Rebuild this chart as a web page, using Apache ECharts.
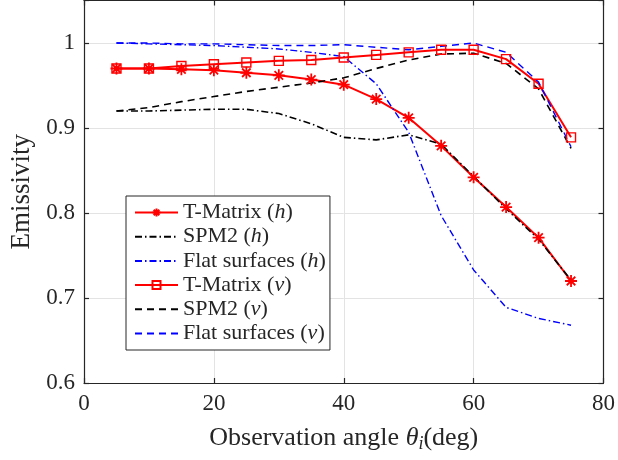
<!DOCTYPE html>
<html>
<head>
<meta charset="utf-8">
<script src="https://cdn.jsdelivr.net/npm/echarts@6/dist/echarts.min.js"></script>
<style>
html,body{margin:0;padding:0;background:#fff;}
#chart{width:618px;height:460px;}
</style>
</head>
<body>
<div id="chart"></div>
<script>
const angles = [5, 10, 15, 20, 25, 30, 35, 40, 45, 50, 55, 60, 65, 70, 75];
const tMatrixH = [0.970, 0.970, 0.969, 0.968, 0.965, 0.962, 0.957, 0.951, 0.934, 0.912, 0.879, 0.842, 0.807, 0.771, 0.720];
const spm2H    = [0.920, 0.920, 0.921, 0.922, 0.922, 0.917, 0.905, 0.889, 0.886, 0.892, 0.881, 0.843, 0.805, 0.769, 0.721];
const flatH    = [1.000, 0.999, 0.998, 0.997, 0.995, 0.993, 0.989, 0.984, 0.952, 0.895, 0.797, 0.733, 0.689, 0.676, 0.668];
const tMatrixV = [0.970, 0.970, 0.973, 0.975, 0.977, 0.979, 0.980, 0.983, 0.986, 0.989, 0.992, 0.992, 0.981, 0.952, 0.889];
const spm2V    = [0.920, 0.924, 0.931, 0.937, 0.943, 0.948, 0.953, 0.959, 0.970, 0.980, 0.987, 0.988, 0.976, 0.946, 0.876];
const flatV    = [1.000, 1.000, 0.999, 0.999, 0.998, 0.997, 0.997, 0.998, 0.995, 0.992, 0.996, 1.000, 0.989, 0.954, 0.878];
const seriesNames = ['T-Matrix (h)', 'SPM2 (h)', 'Flat surfaces (h)', 'T-Matrix (v)', 'SPM2 (v)', 'Flat surfaces (v)'];
const xTicks = [0, 20, 40, 60, 80];
const yTicks = [0.6, 0.7, 0.8, 0.9, 1.0];

const pair = (ys) => angles.map((a, i) => [a, ys[i]]);
const FONT = '"Liberation Serif", "Times New Roman", serif';
const AX = '#262626';
const GRIDC = '#e3e3e3';
const NONE = 'rgba(0,0,0,0)';
const starPath = 'path://M0,-1L0,1M-1,0L1,0M-0.707,-0.707L0.707,0.707M-0.707,0.707L0.707,-0.707';
const squarePath = 'path://M-1,-1L1,-1L1,1L-1,1Z';
const dashDot = [7, 3, 1.5, 3];
const dashed = [7, 5];

const chart = echarts.init(document.getElementById('chart'), null, {renderer: 'canvas'});
const option = {
  animation: false,
  backgroundColor: '#fff',
  grid: {left: 84, right: 13.5, top: 0.5, bottom: 77},
  legend: {
    orient: 'vertical',
    left: 126, top: 196,
    itemWidth: 43, itemHeight: 10, itemGap: 0.2,
    padding: [4.5, 4, 4.5, 8],
    borderColor: AX, borderWidth: 1, backgroundColor: '#fff',
    data: seriesNames,
    selectedMode: false,
    formatter: (n) => n.replace(/\((h|v)\)/, '({it|$1})'),
    textStyle: {
      fontFamily: FONT, fontSize: 22, color: '#262626', lineHeight: 24,
      rich: {it: {fontFamily: FONT, fontStyle: 'italic', fontSize: 22, lineHeight: 24, color: '#262626'}}
    }
  },
  xAxis: [{
    type: 'value', min: 0, max: 80, interval: 20,
    name: 'Observation angle {it|θ}{sub|i}(deg)',
    nameLocation: 'middle', nameGap: 40,
    nameTextStyle: {
      fontFamily: FONT, fontSize: 26, color: '#262626',
      rich: {
        it: {fontFamily: FONT, fontStyle: 'italic', fontSize: 26, color: '#262626'},
        sub: {fontFamily: FONT, fontStyle: 'italic', fontSize: 18, color: '#262626', verticalAlign: 'bottom', padding: [12, 0, 0, 0]}
      }
    },
    axisLine: {show: true, onZero: false, lineStyle: {color: AX, width: 1.2}},
    axisTick: {show: true, inside: true, length: 5, lineStyle: {color: AX, width: 1.2}},
    axisLabel: {fontFamily: FONT, fontSize: 23, color: '#262626', margin: 9,
      formatter: (v) => xTicks.includes(v) ? String(v) : ''},
    splitLine: {show: true, lineStyle: {color: GRIDC, width: 1}}
  }, {
    type: 'value', min: 0, max: 80, interval: 20, position: 'top',
    axisLine: {show: true, onZero: false, lineStyle: {color: AX, width: 1.2}},
    axisTick: {show: true, inside: true, length: 5, lineStyle: {color: AX, width: 1.2}},
    axisLabel: {show: false}, splitLine: {show: false}
  }],
  yAxis: [{
    type: 'value', min: 0.6, max: 1.05, interval: 0.1,
    name: 'Emissivity', nameLocation: 'middle', nameGap: 46, nameRotate: 90,
    nameTextStyle: {fontFamily: FONT, fontSize: 27, color: '#262626'},
    axisLine: {show: true, onZero: false, lineStyle: {color: AX, width: 1.2}},
    axisTick: {show: true, inside: true, length: 5, lineStyle: {color: AX, width: 1.2}},
    axisLabel: {fontFamily: FONT, fontSize: 23, color: '#262626', margin: 9,
      formatter: (v) => {
        const t = yTicks.find(y => Math.abs(y - v) < 1e-6);
        if (t === undefined) return '';
        return t === 1 ? '1' : t.toFixed(1);
      }},
    splitLine: {show: true, lineStyle: {color: GRIDC, width: 1}}
  }, {
    type: 'value', min: 0.6, max: 1.05, interval: 0.1, position: 'right',
    axisLine: {show: true, onZero: false, lineStyle: {color: AX, width: 1.2}},
    axisTick: {show: true, inside: true, length: 5, lineStyle: {color: AX, width: 1.2}},
    axisLabel: {show: false}, splitLine: {show: false}
  }],
  series: [
    {name: seriesNames[0], type: 'line', data: pair(tMatrixH),
     symbol: starPath, symbolSize: 12,
     itemStyle: {color: '#ff0000', borderColor: '#ff0000', borderWidth: 1.8},
     lineStyle: {color: '#ff0000', width: 2}, emphasis: {disabled: true}, z: 3},
    {name: seriesNames[1], type: 'line', data: pair(spm2H), symbol: 'none',
     itemStyle: {color: NONE, borderWidth: 0},
     lineStyle: {color: '#000000', width: 1.6, type: dashDot}, emphasis: {disabled: true}, z: 3},
    {name: seriesNames[2], type: 'line', data: pair(flatH), symbol: 'none',
     itemStyle: {color: NONE, borderWidth: 0},
     lineStyle: {color: '#0000ff', width: 1.4, type: dashDot}, emphasis: {disabled: true}, z: 3},
    {name: seriesNames[3], type: 'line', data: pair(tMatrixV),
     symbol: squarePath, symbolSize: 9,
     itemStyle: {color: NONE, borderColor: '#ff0000', borderWidth: 1.4},
     lineStyle: {color: '#ff0000', width: 2}, emphasis: {disabled: true}, z: 3},
    {name: seriesNames[4], type: 'line', data: pair(spm2V), symbol: 'none',
     itemStyle: {color: NONE, borderWidth: 0},
     lineStyle: {color: '#000000', width: 1.6, type: dashed}, emphasis: {disabled: true}, z: 3},
    {name: seriesNames[5], type: 'line', data: pair(flatV), symbol: 'none',
     itemStyle: {color: NONE, borderWidth: 0},
     lineStyle: {color: '#0000ff', width: 1.4, type: dashed}, emphasis: {disabled: true}, z: 3}
  ]
};
chart.setOption(option);
</script>
</body>
</html>
